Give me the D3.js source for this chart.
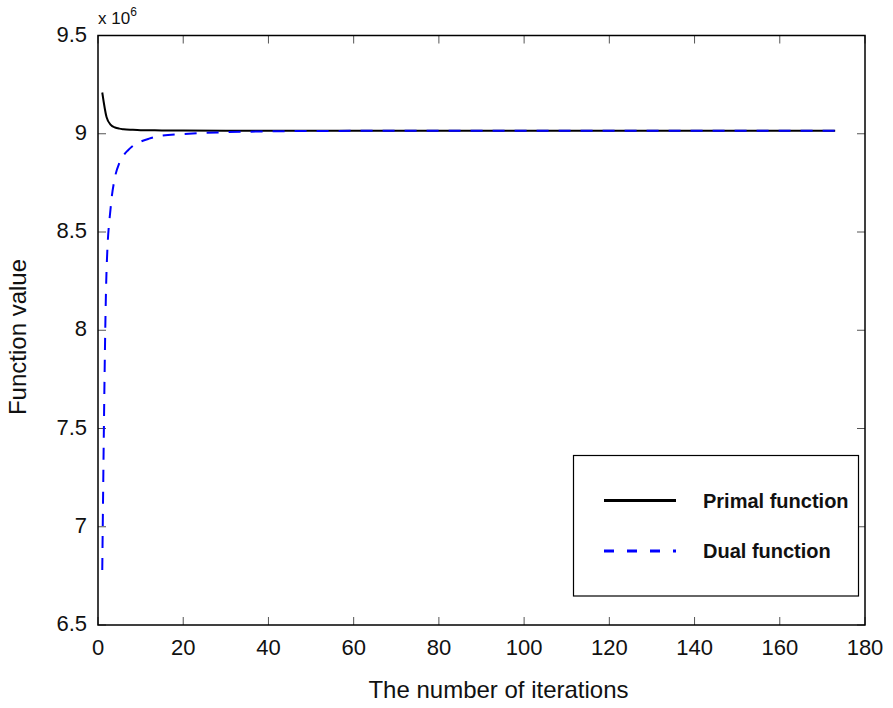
<!DOCTYPE html>
<html>
<head>
<meta charset="utf-8">
<script src="https://cdn.jsdelivr.net/npm/d3@7"></script>
<style>
  body { margin: 0; background: #fff; }
  svg { font-family: "Liberation Sans", Arial, sans-serif; }
</style>
</head>
<body>
<svg width="893" height="708"></svg>
<script>
// values in units of 10^6
const primalIter = [1, 2, 3, 4, 5, 6, 8, 10, 15, 20, 30, 173];
const primalVals = [9.21, 9.085, 9.045, 9.032, 9.026, 9.023, 9.020, 9.018, 9.017, 9.016, 9.015, 9.015];
const dualIter = [1, 2, 3, 4, 5, 6, 7, 8, 10, 12, 15, 20, 25, 30, 40, 50, 70, 173];
const dualVals = [6.78, 8.3, 8.63, 8.78, 8.85, 8.89, 8.915, 8.935, 8.96, 8.975, 8.99, 8.998, 9.004, 9.008, 9.012, 9.014, 9.015, 9.015];
const xTicks = [0, 20, 40, 60, 80, 100, 120, 140, 160, 180];
const yTicks = [6.5, 7, 7.5, 8, 8.5, 9, 9.5];
const seriesNames = ['Primal function', 'Dual function'];

const mLeft = 98, mRight = 865, mTop = 35.5, mBottom = 625;

const x = d3.scaleLinear().domain([0, 180]).range([mLeft, mRight]);
const y = d3.scaleLinear().domain([6.5, 9.5]).range([mBottom, mTop]);

const svg = d3.select('svg');

// ticks inward on all 4 sides
const tl = 8;
const tickG = svg.append('g').attr('stroke', '#555').attr('stroke-width', 1);
xTicks.forEach(t => {
  tickG.append('line').attr('x1', x(t)).attr('x2', x(t)).attr('y1', mBottom).attr('y2', mBottom - tl);
  tickG.append('line').attr('x1', x(t)).attr('x2', x(t)).attr('y1', mTop).attr('y2', mTop + tl);
});
yTicks.forEach(t => {
  tickG.append('line').attr('y1', y(t)).attr('y2', y(t)).attr('x1', mLeft).attr('x2', mLeft + tl);
  tickG.append('line').attr('y1', y(t)).attr('y2', y(t)).attr('x1', mRight).attr('x2', mRight - tl);
});

// tick labels
svg.selectAll('.xl').data(xTicks).enter().append('text')
  .attr('x', d => x(d)).attr('y', mBottom + 30)
  .attr('text-anchor', 'middle').attr('font-size', 22).attr('fill', '#111')
  .text(d => d);
svg.selectAll('.yl').data(yTicks).enter().append('text')
  .attr('x', mLeft - 11).attr('y', d => y(d) + 6)
  .attr('text-anchor', 'end').attr('font-size', 22).attr('fill', '#111')
  .text(d => d);

// exponent label
const ex = svg.append('text').attr('x', mLeft).attr('y', 24).attr('font-size', 17).attr('fill', '#111');
ex.append('tspan').text('x 10');
ex.append('tspan').attr('font-size', 12).attr('dy', -8).text('6');

// axis titles
svg.append('text').attr('x', (mLeft + mRight) / 2 + 17).attr('y', 698)
  .attr('text-anchor', 'middle').attr('font-size', 24).attr('fill', '#111')
  .text('The number of iterations');
svg.append('text').attr('transform', `translate(26,337) rotate(-90)`)
  .attr('text-anchor', 'middle').attr('font-size', 24).attr('fill', '#111')
  .text('Function value');

// lines
const line = d3.line().x(d => x(d[0])).y(d => y(d[1])).curve(d3.curveMonotoneX);
const primal = primalIter.map((d, i) => [d, primalVals[i]]);
const dual = dualIter.map((d, i) => [d, dualVals[i]]);

svg.append('path').datum(primal).attr('d', line)
  .attr('fill', 'none').attr('stroke', '#000').attr('stroke-width', 2);
svg.append('path').datum(dual).attr('d', line)
  .attr('fill', 'none').attr('stroke', '#0000ff').attr('stroke-width', 2)
  .attr('stroke-dasharray', '12,10');

// box
svg.append('rect').attr('x', mLeft).attr('y', mTop)
  .attr('width', mRight - mLeft).attr('height', mBottom - mTop)
  .attr('fill', 'none').attr('stroke', '#000').attr('stroke-width', 1.5);

// legend
const lg = svg.append('g');
lg.append('rect').attr('x', 573.5).attr('y', 455.5).attr('width', 285).attr('height', 140.5)
  .attr('fill', '#fff').attr('stroke', '#000').attr('stroke-width', 1.2);
const styles = [{ c: '#000', dash: null }, { c: '#0000ff', dash: '10,13' }];
seriesNames.forEach((n, i) => {
  const ly = 500.5 + i * 50.5;
  lg.append('line').attr('x1', 604).attr('x2', 676).attr('y1', ly).attr('y2', ly)
    .attr('stroke', styles[i].c).attr('stroke-width', 3)
    .attr('stroke-dasharray', styles[i].dash);
  lg.append('text').attr('x', 703).attr('y', ly + 7)
    .attr('font-size', 20).attr('font-weight', 'bold').attr('fill', '#111')
    .text(n);
});
</script>
</body>
</html>
